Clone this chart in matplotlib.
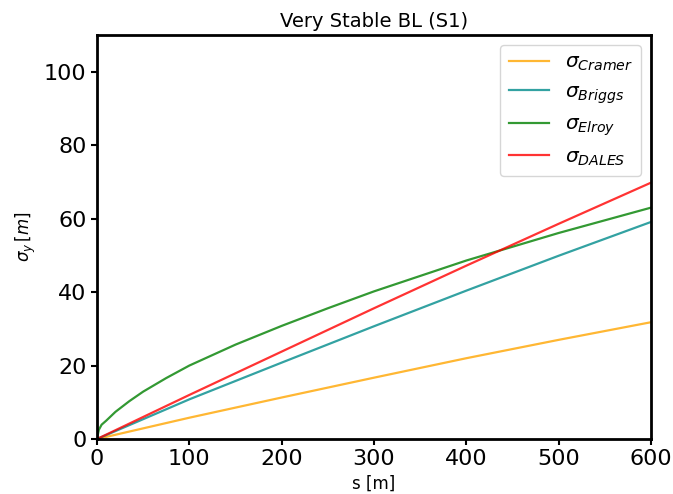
import matplotlib
matplotlib.use("Agg")
import matplotlib.pyplot as plt

# Data
s_lin = [0, 100, 200, 300, 400, 500, 600]
sigma_cramer = [0, 5.8, 11.3, 16.7, 22.0, 27.0, 31.8]
sigma_briggs = [0, 10.8, 20.8, 30.7, 40.4, 49.9, 59.1]
sigma_dales = [0, 12.0, 23.8, 35.6, 47.2, 58.6, 69.8]

s_elroy = [0, 2, 5, 10, 20, 35, 50, 75, 100, 150, 200, 250, 300, 400, 500, 600]
sigma_elroy = [0, 2.5, 3.9, 5.0, 7.4, 10.3, 12.9, 16.6, 20.0, 25.7, 30.8, 35.6, 40.2, 48.6, 56.1, 63.0]

labels = [r"$\sigma_{Cramer}$", r"$\sigma_{Briggs}$", r"$\sigma_{Elroy}$", r"$\sigma_{DALES}$"]
colors = ["orange", "darkcyan", "green", "red"]

fig = plt.figure(figsize=(6.73, 4.94), dpi=100)
ax = fig.add_axes([0.1441, 0.1113, 0.8232, 0.8178])

ax.plot(s_lin, sigma_cramer, color=colors[0], alpha=0.8, lw=1.6, label=labels[0])
ax.plot(s_lin, sigma_briggs, color=colors[1], alpha=0.8, lw=1.6, label=labels[1])
ax.plot(s_elroy, sigma_elroy, color=colors[2], alpha=0.8, lw=1.6, label=labels[2])
ax.plot(s_lin, sigma_dales, color=colors[3], alpha=0.8, lw=1.6, label=labels[3])

ax.set_xlim(0, 600)
ax.set_ylim(0, 110)
ax.set_xticks([0, 100, 200, 300, 400, 500, 600])
ax.set_yticks([0, 20, 40, 60, 80, 100])
ax.tick_params(labelsize=16, width=1.5, length=4)
for sp in ax.spines.values():
    sp.set_linewidth(2)

ax.set_title("Very Stable BL (S1)", fontsize=14)
ax.set_xlabel("s [m]", fontsize=12)
ax.set_ylabel(r"$\sigma_y\,[m]$", fontsize=12)
ax.legend(loc="upper right", fontsize=14.5, handlelength=2.0, labelspacing=0.45,
          borderaxespad=0.5)

fig.savefig("out.png", dpi=100)
